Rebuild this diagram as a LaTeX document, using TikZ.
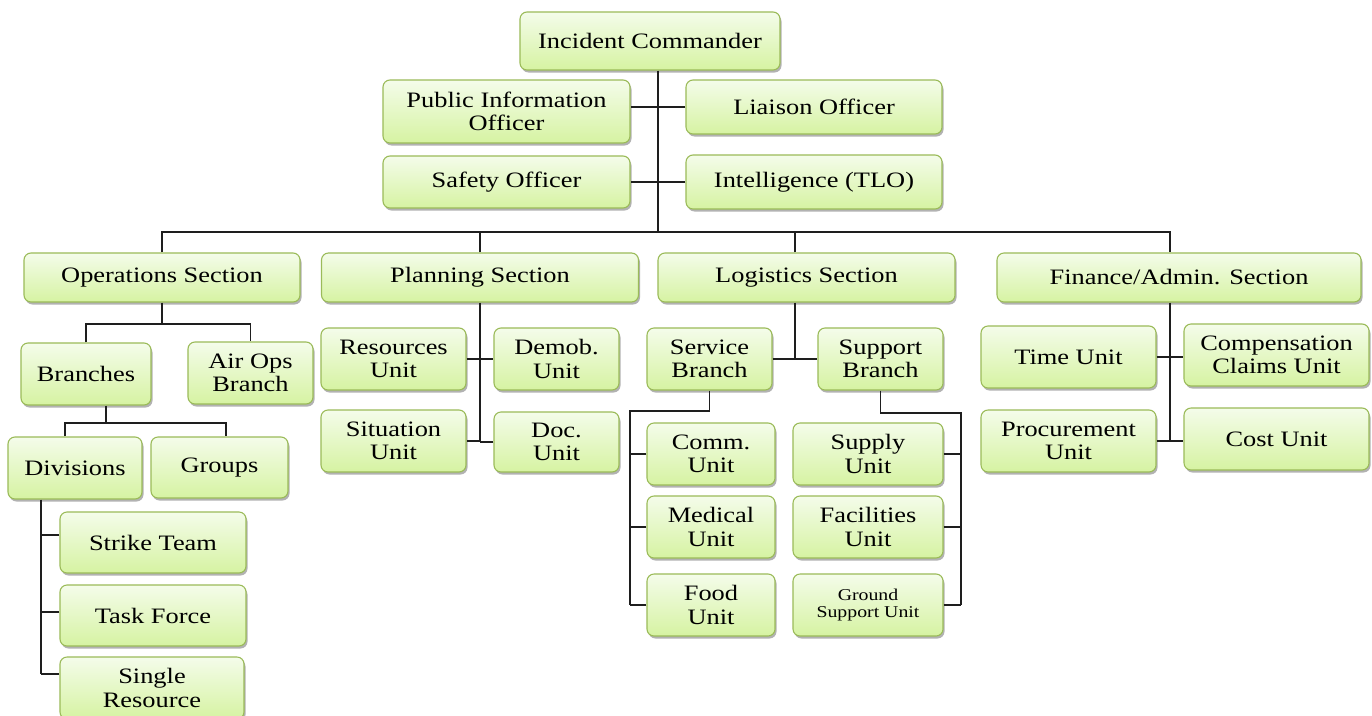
\documentclass[tikz,border=0pt]{standalone}
\usepackage{fontspec}
\setmainfont{Liberation Serif}
\usetikzlibrary{calc,shadows}
\definecolor{boxtop}{HTML}{F4FCEA}
\definecolor{boxbot}{HTML}{D6F3A2}
\definecolor{boxline}{HTML}{9BBB59}
\definecolor{wire}{HTML}{1E1E1E}

\tikzset{
  box/.style={draw=boxline,line width=1.1pt,rounded corners=7pt,
    top color=boxtop,bottom color=boxbot,align=center,inner sep=2pt,
    font=\fontsize{22}{23.5}\selectfont,xscale=1.2,transform shape,
    drop shadow={shadow xshift=1.5pt,shadow yshift=-2.5pt,opacity=.3,fill=black}},
  link/.style={draw=wire,line width=1.7pt}
}

\begin{document}
\begin{tikzpicture}[x=1pt,y=-1pt]
\useasboundingbox (0,0) rectangle (1372,715);
\fill[white] (0,0) rectangle (1372,715);
% Boxes: name / centre / width / height / label
\foreach \n/\x/\y/\w/\h/\t in {
  ic/650/41/260/58/{Incident Commander},
  pio/506.5/111.5/247/63/{Public Information\\Officer},
  lo/814/107/256/54/{Liaison Officer},
  so/506.5/182/247/52/{Safety Officer},
  tlo/814/182/256/54/{Intelligence (TLO)},
  ops/162/277.5/276/49/{Operations Section},
  plan/480/277.5/317/49/{Planning Section},
  log/806.5/277.5/297/49/{Logistics Section},
  fin/1179/277.5/364/49/{Finance/Admin. Section},
  br/86/374/130/62/{Branches},
  air/250.5/373/125/62/{Air Ops\\Branch},
  div/75/468/134/62/{Divisions},
  grp/219.5/467.5/137/61/{Groups},
  st/153/542.5/186/61/{Strike Team},
  tf/153/615.5/186/61/{Task Force},
  sr/152/688/184/62/{Single\\Resource},
  ru/393.5/359/145/62/{Resources\\Unit},
  dm/556.5/359/125/62/{Demob.\\Unit},
  su/393.5/441/145/62/{Situation\\Unit},
  du/556.5/442/125/60/{Doc.\\Unit},
  svc/709.5/359/125/62/{Service\\Branch},
  sup/880.5/359/125/62/{Support\\Branch},
  cu/711/454/128/62/{Comm.\\Unit},
  mu/711/527/128/62/{Medical\\Unit},
  fu/711/605/128/62/{Food\\Unit},
  syu/868/454/150/62/{Supply\\Unit},
  fcu/868/527/150/62/{Facilities\\Unit},
  tu/1068.5/357/175/62/{Time Unit},
  ccu/1276.5/355/185/62/{Compensation\\Claims Unit},
  pu/1068.5/441/175/62/{Procurement\\Unit},
  cst/1276.5/439/185/62/{Cost Unit}} {
  \node[box,minimum width={\w/1.2},minimum height=\h] (\n) at (\x,\y) {\t};
}
\node[box,minimum width={150/1.2},minimum height=62,
  font=\fontsize{16.5}{17.5}\selectfont] (gsu) at (868,605) {Ground\\Support Unit};

% Command staff
\coordinate (hub) at (658,232);
\draw[link] (ic.south -| hub) -- (hub);
\draw[link] (lo.west) -- (lo.west -| pio.east);
\draw[link] (tlo.west) -- (tlo.west -| so.east);

% Section bus
\coordinate (psplit) at ($(ru.east)!.5!(dm.west)$);
\coordinate (lsplit) at ($(svc.east)!.5!(sup.west)$);
\coordinate (fsplit) at ($(tu.east)!.5!(ccu.west)$);
\draw[link] (ops.north) |- (hub) -| (fin.north -| fsplit);
\draw[link] (plan.north) -- (plan.north |- hub);
\draw[link] (log.north -| lsplit) -- (hub -| lsplit);

% Operations
\coordinate (opsbus) at (0,324);
\draw[link] (ops.south) -- (ops.south |- opsbus);
\draw[link] (br.north) |- (ops.south |- opsbus) -| (air.north);
\coordinate (brbus) at (106,423);
\draw[link] (br.south -| brbus) -- (brbus);
\draw[link] ([xshift=-10pt]div.north) |- (brbus) -| ([xshift=6.5pt]grp.north);
\coordinate (divline) at (41,0);
\draw[link] (div.south -| divline) -- ([yshift=14pt]sr.west -| divline);
\foreach \n/\d in {st/7.5,tf/3.5,sr/14}
  \draw[link] ([yshift=\d pt]\n.west) -- ([yshift=\d pt]\n.west -| divline);

% Planning
\draw[link] (ru.east) -- (dm.west);
\draw[link] (plan.south -| psplit) |- (su.east);
\draw[link] (du.west) -- (du.west -| psplit);

% Logistics
\draw[link] (log.south -| lsplit) -- (lsplit);
\draw[link] (svc.east) -- (sup.west);
\coordinate (svcbus) at (630,411);
\draw[link] (svc.south) |- (svcbus) -- (svcbus |- fu.west);
\foreach \n in {cu,mu,fu}
  \draw[link] (\n.west) -- (\n.west -| svcbus);
\coordinate (supbus) at (961,413);
\draw[link] (sup.south) |- (supbus) -- (supbus |- gsu.east);
\foreach \n in {syu,fcu,gsu}
  \draw[link] (\n.east) -- (\n.east -| supbus);

% Finance/Admin
\draw[link] (tu.east) -- (tu.east -| ccu.west);
\draw[link] (fin.south -| fsplit) -- (fsplit |- pu.east);
\draw[link] (pu.east) -- (pu.east -| cst.west);
\end{tikzpicture}
\end{document}
